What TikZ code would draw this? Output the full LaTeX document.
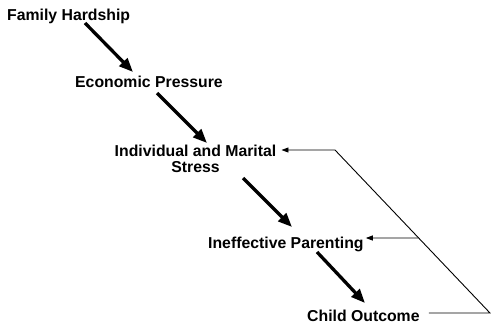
\documentclass[tikz,border=0pt]{standalone}
\usepackage{fontspec}
\setmainfont{Liberation Sans}
\usetikzlibrary{arrows.meta,calc}
\begin{document}
\begin{tikzpicture}[x=1pt,y=-1pt,
  lbl/.style={inner sep=0pt,font=\fontsize{15.8}{15.5}\selectfont\bfseries},
  bigarrow/.style={line width=3.3pt,-{Triangle[length=14pt,width=11pt]}},
  fbline/.style={line width=0.9pt},
  fbarrow/.style={line width=0.9pt,-{Triangle[length=7pt,width=5pt]}}]
\useasboundingbox[fill=white] (0,0) rectangle (491,325);
\node[lbl,anchor=base west] (fh) at (7,20) {Family Hardship};
\node[lbl,anchor=base west] (ep) at (75,87) {Economic Pressure};
\node[lbl,anchor=base,align=center] (ims) at (195.5,172) {Individual and Marital\\Stress};
\node[lbl,anchor=base west] (ip) at (208,248) {Ineffective Parenting};
\node[lbl,anchor=base west] (co) at (307,321) {Child Outcome};
% causal chain
\draw[bigarrow] ([shift={(78,3)}]fh.base west) -- ([shift={(58,-15)}]ep.base west);
\draw[bigarrow] ([shift={(82,6)}]ep.base west) -- ([shift={(11.5,-29)}]ims.base);
\draw[bigarrow] ([shift={(47.5,6)}]ims.base) -- ([shift={(84,-21)}]ip.base west);
\draw[bigarrow] ([shift={(109,4)}]ip.base west) -- ([shift={(58,-18)}]co.base west);
% feedback
\coordinate (c1) at (490,313);
\coordinate (c2) at (335,150);
\draw[fbarrow] ([shift={(9,-8)}]co.base east) -- (c1) -- (c2) -- ([shift={(5,-22)}]ims.base east);
\coordinate (ipend) at ([shift={(2,-10)}]ip.base east);
\draw[fbarrow] (intersection of c1--c2 and ipend--{$(ipend)+(10,0)$}) -- (ipend);
\end{tikzpicture}
\end{document}
